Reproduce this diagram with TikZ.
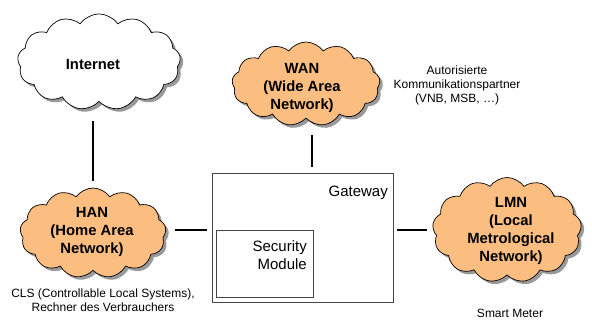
\documentclass[tikz,border=0pt]{standalone}
\usepackage{fontspec}
\setmainfont{Liberation Sans}
\usetikzlibrary{shapes.symbols,shadows}
\definecolor{cloudfill}{RGB}{252,190,128}
\definecolor{boxline}{RGB}{70,70,70}
\tikzset{
  netcloud/.style={cloud, cloud puffs=13, cloud puff arc=110, cloud ignores aspect,
    draw=black, line width=0.7pt, fill=cloudfill, inner sep=0pt,
    drop shadow={shadow xshift=3pt, shadow yshift=-3pt, fill=black!40, opacity=1}},
  cloudtext/.style={font=\bfseries\fontsize{14.8}{18}\selectfont, align=center, inner sep=0pt},
  smalltext/.style={font=\fontsize{12}{14}\selectfont, align=center, inner sep=0pt},
  boxtext/.style={font=\fontsize{15}{18}\selectfont, align=right, inner sep=0pt},
  plainbox/.style={draw=boxline, line width=0.8pt, inner sep=0pt},
  conn/.style={line width=1.6pt, draw=black}
}
\begin{document}
\begin{tikzpicture}[x=1pt,y=-1pt]
\useasboundingbox (0,0) rectangle (592,320);
% clouds
\node[netcloud, fill=white, minimum width=163pt, minimum height=96pt] (inet) at (99,62) {};
\node[cloudtext] (inett) at (93,64) {Internet};
\node[netcloud, minimum width=148pt, minimum height=84pt] (wan) at (306,84) {};
\node[cloudtext] (want) at (302,88) {WAN\\(Wide Area\\Network)};
\node[netcloud, minimum width=146pt, minimum height=90pt] (han) at (93,233) {};
\node[cloudtext] (hant) at (92,232) {HAN\\(Home Area\\Network)};
\node[netcloud, minimum width=149pt, minimum height=105pt] (lmn) at (507,230) {};
\node[cloudtext] (lmnt) at (511,231) {LMN\\(Local\\Metrological\\Network)};
% gateway
\node[plainbox, minimum width=181pt, minimum height=129pt] (gw) at (302.5,237.5) {};
\node[boxtext, anchor=east] (gwt) at (388,193) {Gateway};
\node[plainbox, minimum width=97pt, minimum height=67pt] (sm) at (264.5,263.5) {};
\node[boxtext, anchor=east] (smt) at (307,255) {Security\\Module};
% labels
\node[smalltext] (auth) at (457,85) {Autorisierte\\Kommunikationspartner\\(VNB, MSB, \dots)};
\node[smalltext] (cls) at (103,300) {CLS (Controllable Local Systems),\\Rechner des Verbrauchers};
\node[smalltext] (smart) at (510,313) {Smart Meter};
% connectors
\coordinate (ly) at (0,230);
\coordinate (wx) at (312,0);
\draw[conn, shorten <=19pt, shorten >=7pt] (han.north |- inet.south) -- (han.north);
\draw[conn, shorten <=16pt, shorten >=6pt] (wx |- wan.south) -- (wx |- gw.north);
\draw[conn, shorten <=9pt, shorten >=5pt] (han.east |- ly) -- (gw.west |- ly);
\draw[conn, shorten <=4pt, shorten >=6pt] (gw.east |- ly) -- (lmn.west |- ly);
\end{tikzpicture}
\end{document}
